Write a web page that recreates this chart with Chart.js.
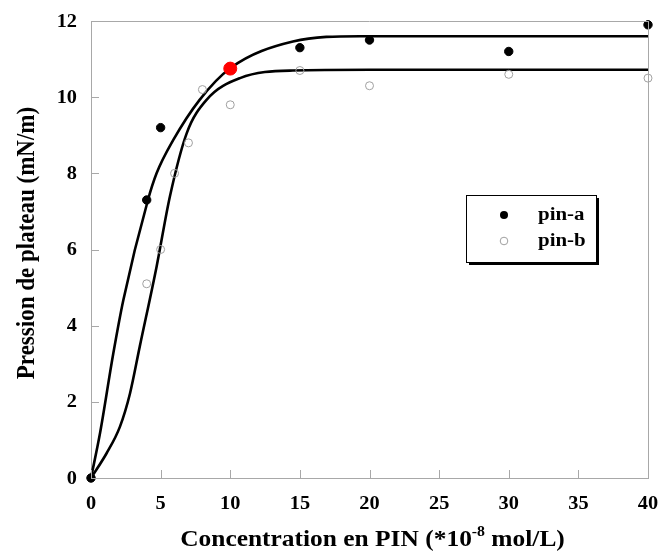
<!DOCTYPE html>
<html>
<head>
<meta charset="utf-8">
<script src="https://cdn.jsdelivr.net/npm/chart.js@4/dist/chart.umd.min.js"></script>
<style>
html,body{margin:0;padding:0;background:#fff;}
#wrap{width:661px;height:552px;position:relative;}
</style>
</head>
<body>
<div id="wrap"><canvas id="c" width="661" height="552"></canvas></div>
<script>
// ---- data ----
const pinA_x = [0, 4, 5, 15, 20, 30, 40];
const pinA_y = [0, 7.3, 9.2, 11.3, 11.5, 11.2, 11.9];
const pinB_x = [0, 4, 5, 6, 7, 8, 10, 15, 20, 30, 40];
const pinB_y = [0, 5.1, 6.0, 8.0, 8.8, 10.2, 9.8, 10.7, 10.3, 10.6, 10.5];
const highlight_x = [10];
const highlight_y = [10.75];
const fitA_x = [0, 0.65, 1.6, 2.32, 4.09, 4.71, 5.9, 7.8, 10, 14.5, 19.3, 40];
const fitA_y = [0, 1.18, 3.27, 4.67, 7.3, 8.0, 8.87, 9.93, 10.76, 11.46, 11.6, 11.6];
const fitB_x = [0, 1.12, 2.08, 2.8, 3.5, 4.71, 5.67, 6.87, 8.3, 10.7, 14.5, 20, 40];
const fitB_y = [0, 0.65, 1.35, 2.22, 3.45, 5.55, 7.4, 9.05, 9.93, 10.5, 10.7, 10.72, 10.72];
const xTicks = [0, 5, 10, 15, 20, 25, 30, 35, 40];
const yTicks = [0, 2, 4, 6, 8, 10, 12];
const seriesLabels = ['pin-a', 'pin-b'];
const xTitleMain = 'Concentration en PIN (*10';
const xTitleSup = '-8';
const xTitleEnd = ' mol/L)';
const yTitle = 'Pression de plateau (mN/m)';

const pts = (xs, ys) => xs.map((x, i) => ({x: x, y: ys[i]}));
const FONT = '"Liberation Serif", "Times New Roman", serif';
const AXIS_GRAY = '#a8a8a8';
const SX = 1.13; // horizontal stretch of the reference's lettering

function sText(ctx, text, x, y, align, font) {
  ctx.save();
  ctx.font = font;
  const w = ctx.measureText(text).width * SX;
  let left = x;
  if (align === 'center') left = x - w / 2;
  else if (align === 'right') left = x - w;
  ctx.translate(left, y);
  ctx.scale(SX, 1);
  ctx.textAlign = 'left';
  ctx.fillText(text, 0, 0);
  ctx.restore();
  return w;
}

const decor = {
  id: 'decor',
  afterDraw(chart) {
    const ctx = chart.ctx;
    const a = chart.chartArea;
    const xs = chart.scales.x, ys = chart.scales.y;
    ctx.save();
    // top & right frame
    ctx.strokeStyle = AXIS_GRAY;
    ctx.lineWidth = 1;
    ctx.beginPath();
    ctx.moveTo(a.left, a.top + 0.5); ctx.lineTo(a.right, a.top + 0.5);
    ctx.moveTo(a.right + 0.5, a.top); ctx.lineTo(a.right + 0.5, a.bottom);
    ctx.stroke();
    // inward ticks
    ctx.beginPath();
    xTicks.forEach(v => {
      const px = Math.round(xs.getPixelForValue(v)) + 0.5;
      ctx.moveTo(px, a.bottom); ctx.lineTo(px, a.bottom - 8);
    });
    yTicks.forEach(v => {
      const py = Math.round(ys.getPixelForValue(v)) + 0.5;
      ctx.moveTo(a.left, py); ctx.lineTo(a.left + 8, py);
    });
    ctx.stroke();

    // tick labels
    ctx.fillStyle = '#000';
    ctx.textBaseline = 'middle';
    const tickF = 'bold 18px ' + FONT;
    xTicks.forEach(v => sText(ctx, String(v), xs.getPixelForValue(v), 504, 'center', tickF));
    yTicks.forEach(v => sText(ctx, String(v), 77, ys.getPixelForValue(v) + 1, 'right', tickF));

    // x title with superscript
    ctx.textBaseline = 'alphabetic';
    const mainF = 'bold 22.5px ' + FONT, supF = 'bold 14px ' + FONT;
    ctx.font = mainF;
    const w1 = ctx.measureText(xTitleMain).width * SX;
    const w3 = ctx.measureText(xTitleEnd).width * SX;
    ctx.font = supF;
    const w2 = ctx.measureText(xTitleSup).width * SX;
    const total = w1 + w2 + w3;
    const x0 = (a.left + a.right) / 2 + 3 - total / 2;
    const base = 546;
    sText(ctx, xTitleMain, x0, base, 'left', mainF);
    sText(ctx, xTitleSup, x0 + w1, base - 10, 'left', supF);
    sText(ctx, xTitleEnd, x0 + w1 + w2, base, 'left', mainF);

    // y title (rotated)
    ctx.save();
    ctx.translate(27, 243);
    ctx.scale(SX, 1);
    ctx.rotate(-Math.PI / 2);
    ctx.textAlign = 'center';
    ctx.textBaseline = 'middle';
    ctx.font = 'bold 23px ' + FONT;
    ctx.fillText(yTitle, 0, 0);
    ctx.restore();

    // legend box with shadow
    const bx = 466, by = 195, bw = 130, bh = 67;
    ctx.fillStyle = '#000';
    ctx.fillRect(bx + 3, by + 3, bw, bh);
    ctx.fillStyle = '#fff';
    ctx.fillRect(bx, by, bw, bh);
    ctx.strokeStyle = '#000';
    ctx.lineWidth = 1;
    ctx.strokeRect(bx + 0.5, by + 0.5, bw, bh);
    // entries
    ctx.beginPath(); ctx.arc(504, 215, 4, 0, Math.PI * 2);
    ctx.fillStyle = '#000'; ctx.fill();
    ctx.beginPath(); ctx.arc(504, 241, 3.8, 0, Math.PI * 2);
    ctx.fillStyle = '#fff'; ctx.fill();
    ctx.strokeStyle = '#a0a0a0'; ctx.lineWidth = 1; ctx.stroke();
    ctx.fillStyle = '#000';
    ctx.textBaseline = 'middle';
    const legF = 'bold 18.5px ' + FONT;
    sText(ctx, seriesLabels[0], 538, 215, 'left', legF);
    sText(ctx, seriesLabels[1], 538, 241, 'left', legF);
    ctx.restore();
  }
};

new Chart(document.getElementById('c'), {
  type: 'scatter',
  data: {
    datasets: [
      {
        label: 'fit-a', type: 'line', data: pts(fitA_x, fitA_y),
        borderColor: '#000', borderWidth: 2.6, pointRadius: 0, fill: false,
        cubicInterpolationMode: 'monotone', order: 5
      },
      {
        label: 'fit-b', type: 'line', data: pts(fitB_x, fitB_y),
        borderColor: '#000', borderWidth: 2.6, pointRadius: 0, fill: false,
        cubicInterpolationMode: 'monotone', order: 5
      },
      {
        label: seriesLabels[1], data: pts(pinB_x, pinB_y),
        pointRadius: 4, pointBackgroundColor: 'rgba(255,255,255,0)',
        pointBorderColor: '#a0a0a0', pointBorderWidth: 1, order: 3
      },
      {
        label: seriesLabels[0], data: pts(pinA_x, pinA_y),
        pointRadius: 4.2, pointBackgroundColor: '#000',
        pointBorderColor: '#000', pointBorderWidth: 1, order: 2
      },
      {
        label: 'highlight', data: pts(highlight_x, highlight_y),
        pointRadius: 6.5, pointBackgroundColor: '#ff0000',
        pointBorderColor: '#ff0000', pointBorderWidth: 1, order: 1
      }
    ]
  },
  options: {
    responsive: false,
    animation: false,
    clip: false,
    layout: { padding: { left: 0, right: 13, top: 21, bottom: 0 } },
    plugins: { legend: { display: false }, tooltip: { enabled: false } },
    scales: {
      x: {
        type: 'linear', min: 0, max: 40,
        afterBuildTicks: s => { s.ticks = xTicks.map(v => ({value: v})); },
        afterFit: s => { s.height = 74; },
        grid: { display: false, drawTicks: false },
        border: { display: true, color: AXIS_GRAY, width: 1 },
        ticks: { display: false }
      },
      y: {
        type: 'linear', min: 0, max: 12,
        afterBuildTicks: s => { s.ticks = yTicks.map(v => ({value: v})); },
        afterFit: s => { s.width = 91; },
        grid: { display: false, drawTicks: false },
        border: { display: true, color: AXIS_GRAY, width: 1 },
        ticks: { display: false }
      }
    }
  },
  plugins: [decor]
});
</script>
</body>
</html>
